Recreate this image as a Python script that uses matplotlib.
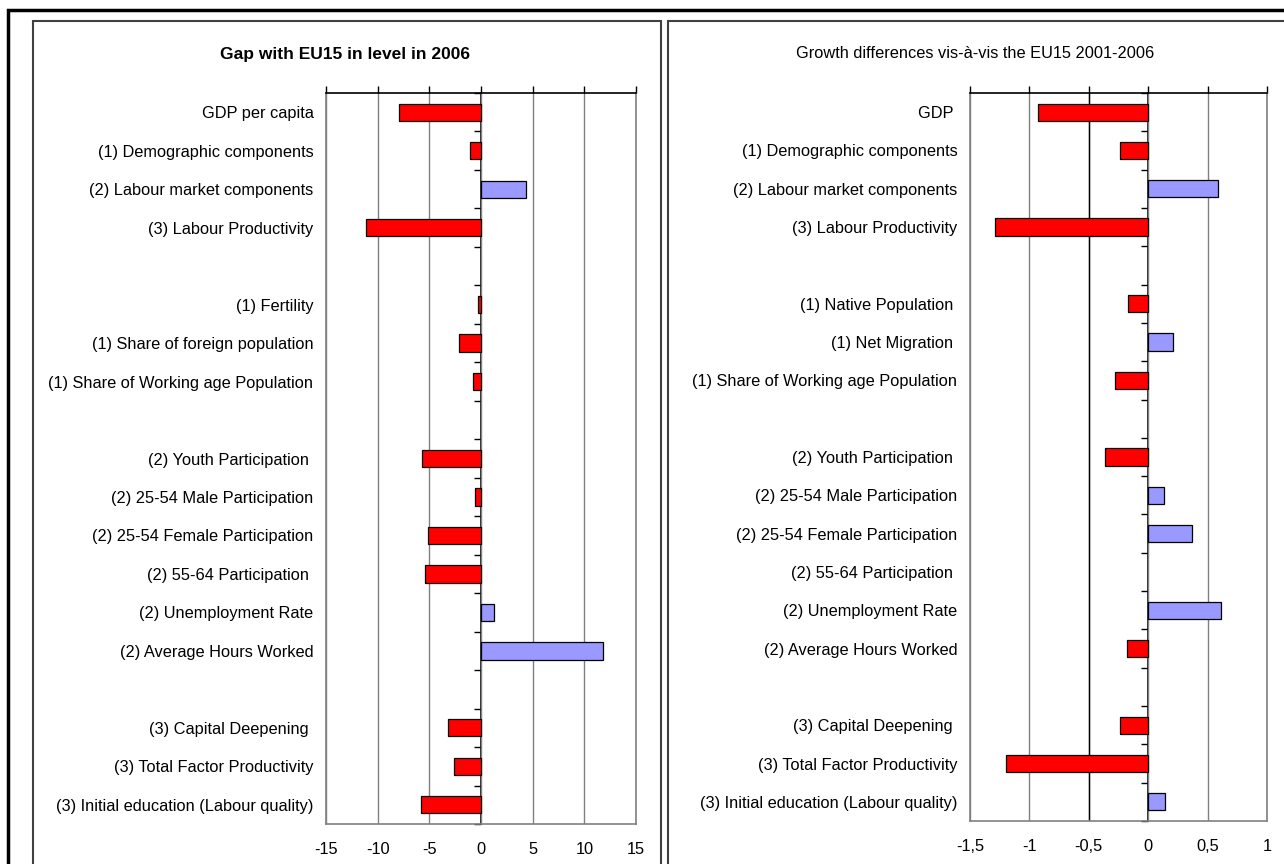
import matplotlib.pyplot as plt
import matplotlib.patches as patches
import numpy as np

plt.rcParams['font.family'] = ['Liberation Sans', 'DejaVu Sans']

W, H = 1284, 864

# left panel: gap in level, 2006
left_labels = [
    "GDP per capita", "(1) Demographic components", "(2) Labour market components",
    "(3) Labour Productivity", "",
    "(1) Fertility", "(1) Share of foreign population", "(1) Share of Working age Population", "",
    "(2) Youth Participation ", "(2) 25-54 Male Participation", "(2) 25-54 Female Participation",
    "(2) 55-64 Participation ", "(2) Unemployment Rate", "(2) Average Hours Worked", "",
    "(3) Capital Deepening ", "(3) Total Factor Productivity", "(3) Initial education (Labour quality)",
]
left_values = [-7.9, -1.1, 4.4, -11.1, np.nan,
               -0.3, -2.1, -0.8, np.nan,
               -5.7, -0.6, -5.1, -5.4, 1.3, 11.8, np.nan,
               -3.2, -2.6, -5.8]
left_ticks = [-15, -10, -5, 0, 5, 10, 15]
left_ticklabels = ["-15", "-10", "-5", "0", "5", "10", "15"]

# right panel: growth differences 2001-2006
right_labels = [
    "GDP ", "(1) Demographic components", "(2) Labour market components",
    "(3) Labour Productivity", "",
    "(1) Native Population ", "(1) Net Migration ", "(1) Share of Working age Population", "",
    "(2) Youth Participation ", "(2) 25-54 Male Participation", "(2) 25-54 Female Participation",
    "(2) 55-64 Participation ", "(2) Unemployment Rate", "(2) Average Hours Worked", "",
    "(3) Capital Deepening ", "(3) Total Factor Productivity", "(3) Initial education (Labour quality)",
]
right_values = [-0.93, -0.24, 0.59, -1.29, np.nan,
                -0.17, 0.21, -0.28, np.nan,
                -0.36, 0.13, 0.37, 0.0, 0.61, -0.18, np.nan,
                -0.24, -1.20, 0.14]
right_ticks = [-1.5, -1.0, -0.5, 0.0, 0.5, 1.0]
right_ticklabels = ["-1,5", "-1", "-0,5", "0", "0,5", "1"]

RED = "#FF0000"
BLUE = "#9999FF"
GRID = "#808080"
FS = 11.8


def px_box(x0, y0, x1, y1):
    return [x0 / W, 1 - y1 / H, (x1 - x0) / W, (y1 - y0) / H]


def draw_panel(ax, labels, values, ticks, ticklabels, dark_grid=None):
    vals = np.array(values, dtype=float)
    pos = np.arange(len(labels))
    colors = np.array([BLUE if v > 0 else RED for v in np.nan_to_num(vals)])
    show = ~np.isnan(vals) & (np.nan_to_num(vals) != 0)
    ax.barh(pos[show], vals[show], height=0.45, color=colors[show],
            edgecolor="black", linewidth=0.9, zorder=3)

    ax.set_xlim(ticks[0], ticks[-1])
    ax.set_ylim(len(labels) - 0.5, -0.5)
    ax.set_xticks(ticks)
    ax.set_xticklabels(ticklabels)
    ax.set_yticks(pos)
    ax.set_yticklabels(labels)
    ax.tick_params(axis="y", length=0, pad=9, labelsize=FS)
    ax.tick_params(axis="x", top=True, bottom=False, labeltop=False, labelbottom=True,
                   direction="out", length=5, width=1, color="black", pad=8, labelsize=FS)
    ax.grid(axis="x", color=GRID, linewidth=1)
    if dark_grid is not None:
        ax.axvline(dark_grid, color="black", linewidth=1, zorder=2)
    for side in ("left", "right", "bottom"):
        ax.spines[side].set_color(GRID)
        ax.spines[side].set_linewidth(1.2)
    ax.spines["top"].set_color("black")
    ax.spines["top"].set_linewidth(1.2)

    # vertical category axis crossing at zero, tick marks between categories
    loc = (0 - ticks[0]) / (ticks[-1] - ticks[0])
    sec = ax.secondary_yaxis(loc)
    for side in ("left", "right"):
        sec.spines[side].set_color("black")
        sec.spines[side].set_linewidth(1.2)
    sec.set_yticks(np.arange(-0.5, len(labels), 1.0))
    sec.set_yticklabels([])
    sec.tick_params(axis="y", direction="in", length=5, width=1, color="black")


fig = plt.figure(figsize=(W / 100, H / 100), dpi=100)

# frames
fig.patches.append(patches.Rectangle((8 / W, -0.1), 1.2, 1 - 10 / H + 0.1, transform=fig.transFigure,
                                     fill=False, edgecolor="black", linewidth=2.5))
fig.patches.append(patches.Rectangle((33 / W, -0.1), (661 - 33) / W, 1 - 21 / H + 0.1,
                                     transform=fig.transFigure, fill=False,
                                     edgecolor="#404040", linewidth=1.5))
fig.patches.append(patches.Rectangle((668 / W, -0.1), 1.0, 1 - 21 / H + 0.1,
                                     transform=fig.transFigure, fill=False,
                                     edgecolor="#404040", linewidth=1.5))

ax1 = fig.add_axes(px_box(326, 93, 636, 824))
draw_panel(ax1, left_labels, left_values, left_ticks, left_ticklabels)
ax2 = fig.add_axes(px_box(970, 93, 1267, 821))
draw_panel(ax2, right_labels, right_values, right_ticks, right_ticklabels, dark_grid=-0.5)

fig.text(345 / W, 1 - 54 / H, "Gap with EU15 in level in 2006", ha="center", va="center",
         fontsize=12.5, fontweight="bold")
fig.text(975 / W, 1 - 54 / H, "Growth differences vis-à-vis the EU15 2001-2006", ha="center",
         va="center", fontsize=FS)

fig.savefig("out.png", dpi=100)
